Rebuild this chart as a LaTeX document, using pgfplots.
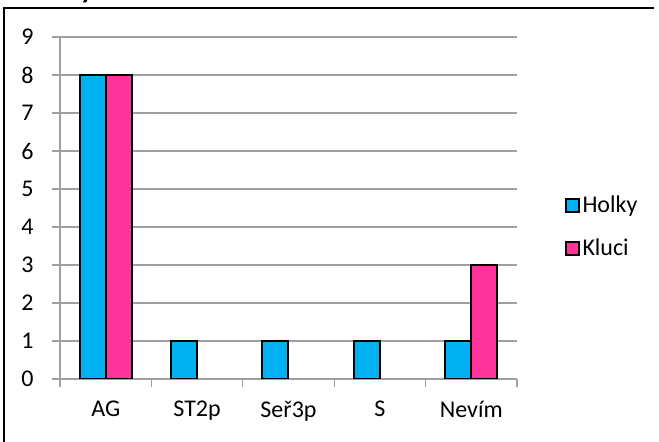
\documentclass[border=0pt]{standalone}
\usepackage{pgfplots}
\pgfplotsset{compat=1.18}
\usepackage{fontspec}
\setmainfont{Carlito}
\definecolor{holky}{RGB}{0,176,240}
\definecolor{kluci}{RGB}{255,51,153}
\definecolor{gridc}{RGB}{160,160,160}
\begin{document}
\fontsize{12}{14.4}\selectfont
\begin{tikzpicture}
\useasboundingbox (0,0) rectangle (329.5pt,221pt);
\node[anchor=base west, inner sep=0pt, font=\bfseries\fontsize{14}{16}\selectfont] at (40pt,221.8pt) {y};
\draw[black, line width=1pt] (2pt,0pt) -- (2pt,217pt) -- (327pt,217pt);
\begin{axis}[
  at={(30pt,31.5pt)}, anchor=south west,
  scale only axis, width=228.5pt, height=171pt,
  xmin=-0.5, xmax=4.5, ymin=0, ymax=9,
  ytick={0,...,9},
  xtick={0,...,4},
  xticklabels={AG,ST2p,Seř3p,S,Nevím},
  minor xtick={-0.5,0.5,...,4.5},
  ymajorgrids,
  grid style={gridc, line width=0.6pt},
  axis line style={gridc, line width=0.6pt},
  axis x line*=bottom, axis y line*=left,
  tick align=outside,
  major tick length=4pt, minor tick length=4pt,
  tick style={gridc, line width=0.6pt},
  major x tick style={draw=none},
  ybar=0pt, bar width=13pt,
  /pgf/number format/assume math mode=true,
  ticklabel style={font=\fontsize{12}{14.4}\selectfont},
  yticklabel style={xshift=-5pt},
  xticklabel style={yshift=-3pt},
  legend style={at={(1.09,0.444)}, anchor=west, draw=none, fill=none,
    row sep=8.5pt, font=\fontsize{12}{14.4}\selectfont,
    nodes={inner sep=1.5pt}},
  legend cell align=left,
  legend image code/.code={\draw[#1, draw=black, line width=1pt] (0pt,-3.25pt) rectangle (6.5pt,3.25pt);},
]
\addplot[fill=holky, draw=black, line width=1pt] coordinates {(0,8) (1,1) (2,1) (3,1) (4,1)};
\addplot[fill=kluci, draw=black, line width=1pt] coordinates {(0,8) (4,3)};
\legend{Holky,Kluci}
\end{axis}
\end{tikzpicture}
\end{document}
